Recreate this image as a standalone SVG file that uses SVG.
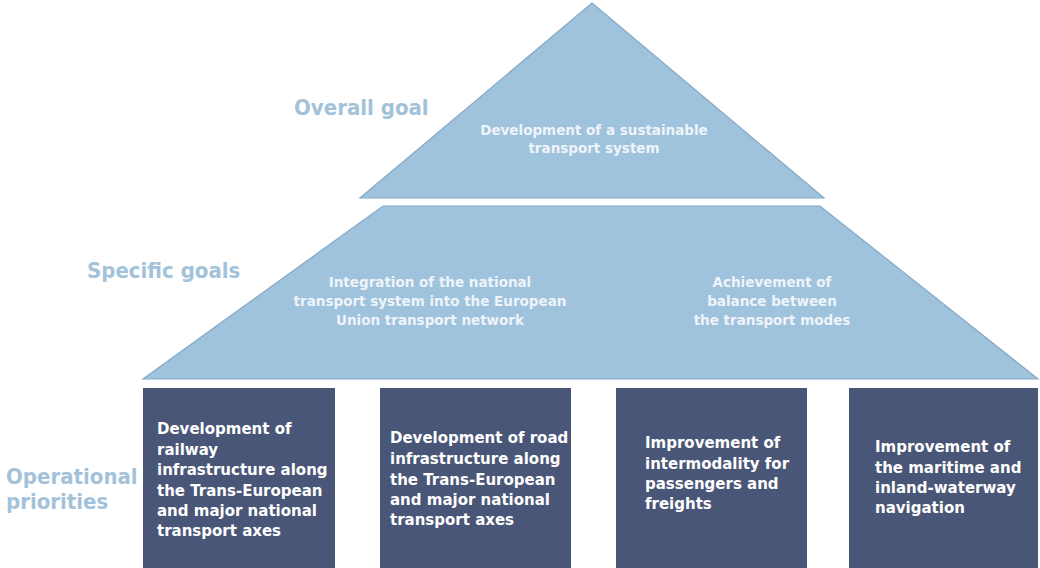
<svg xmlns="http://www.w3.org/2000/svg" width="1040" height="568" viewBox="0 0 1040 568">
  <style>
    .tier { fill: #9fc2dd; stroke: #86a9c6; stroke-width: 1.2; }
    .box { fill: #4a5677; }
    .lvl { font-family: "DejaVu Sans Condensed", "DejaVu Sans", sans-serif; font-weight: bold; font-size: 22px; fill: #a3c2da; }
    .ttxt { font-family: "DejaVu Sans", Verdana, sans-serif; font-weight: bold; font-size: 13.5px; fill: #eef4f9; text-anchor: middle; }
    .btxt { font-family: "DejaVu Sans", Verdana, sans-serif; font-weight: bold; font-size: 15px; fill: #ffffff; }
  </style>
  <rect width="1040" height="568" fill="#ffffff"/>

  <!-- level captions -->
  <g id="labels">
    <text class="lvl" x="294" y="115">Overall goal</text>
    <text class="lvl" x="87" y="278">Specific goals</text>
    <text class="lvl" x="6" y="484">Operational</text>
    <text class="lvl" x="6" y="509">priorities</text>
  </g>

  <!-- top tier -->
  <g id="overall-goal">
    <polygon class="tier" points="592,3 824,198 360,198"/>
    <text class="ttxt" x="594" y="135">Development of a sustainable</text>
    <text class="ttxt" x="594" y="153">transport system</text>
  </g>

  <!-- middle tier -->
  <g id="specific-goals">
    <polygon class="tier" points="383,206 820,206 1038,379 143,379"/>
    <text class="ttxt" x="430" y="287">Integration of the national</text>
    <text class="ttxt" x="430" y="306">transport system into the European</text>
    <text class="ttxt" x="430" y="325">Union transport network</text>
    <text class="ttxt" x="772" y="287">Achievement of</text>
    <text class="ttxt" x="772" y="306">balance between</text>
    <text class="ttxt" x="772" y="325">the transport modes</text>
  </g>

  <!-- operational priorities -->
  <g id="priority-rail">
    <rect class="box" x="143" y="388" width="192" height="180"/>
    <text class="btxt" x="157" y="434">Development of</text>
    <text class="btxt" x="157" y="455">railway</text>
    <text class="btxt" x="157" y="475">infrastructure along</text>
    <text class="btxt" x="157" y="496">the Trans-European</text>
    <text class="btxt" x="157" y="516">and major national</text>
    <text class="btxt" x="157" y="536">transport axes</text>
  </g>
  <g id="priority-road">
    <rect class="box" x="380" y="388" width="191" height="180"/>
    <text class="btxt" x="390" y="443">Development of road</text>
    <text class="btxt" x="390" y="464">infrastructure along</text>
    <text class="btxt" x="390" y="485">the Trans-European</text>
    <text class="btxt" x="390" y="505">and major national</text>
    <text class="btxt" x="390" y="525">transport axes</text>
  </g>
  <g id="priority-intermodality">
    <rect class="box" x="616" y="388" width="191" height="180"/>
    <text class="btxt" x="645" y="448">Improvement of</text>
    <text class="btxt" x="645" y="469">intermodality for</text>
    <text class="btxt" x="645" y="489">passengers and</text>
    <text class="btxt" x="645" y="509">freights</text>
  </g>
  <g id="priority-waterway">
    <rect class="box" x="849" y="388" width="189" height="180"/>
    <text class="btxt" x="875" y="452">Improvement of</text>
    <text class="btxt" x="875" y="473">the maritime and</text>
    <text class="btxt" x="875" y="493">inland-waterway</text>
    <text class="btxt" x="875" y="513">navigation</text>
  </g>

  <g id="connectors"/>
</svg>
